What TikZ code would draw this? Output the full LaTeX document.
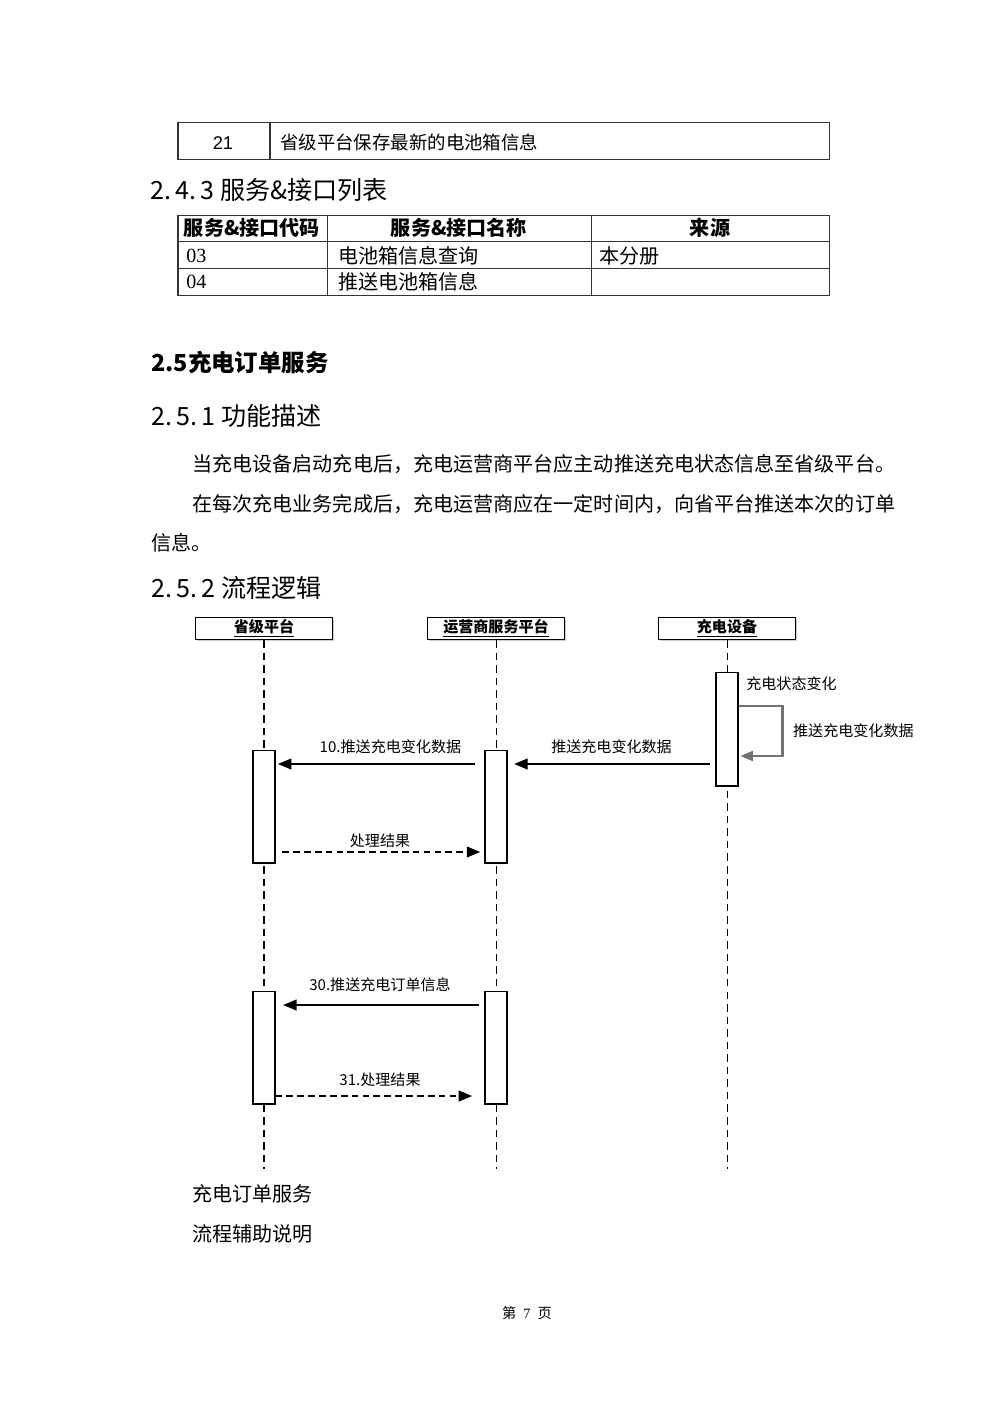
\documentclass[tikz,border=0pt]{standalone}
\usepackage{fontspec}
\setmainfont{Noto Sans CJK SC}
\newfontfamily\serifnum{Liberation Serif}
\newfontfamily\sansnum{Liberation Sans}
\usetikzlibrary{shadows, arrows.meta, positioning, calc}
\tikzset{
    txt/.style = {inner sep=0pt, anchor=west, font=\fontsize{12}{14}\selectfont},% body text
    head/.style = {inner sep=0pt, anchor=west, font=\fontsize{15}{18}\selectfont},
    cell/.style = {inner sep=0pt, font=\fontsize{12}{14}\selectfont},
    grid/.style = {draw=black!80, line width=0.6pt},
    actor/.style = {draw, fill=white, line width=0.7pt, minimum width=28.6mm, minimum height=4.6mm,
        inner sep=0pt, font=\fontsize{9}{10}\selectfont\bfseries,
        drop shadow={shadow xshift=0.9pt, shadow yshift=-0.9pt, opacity=0.4}},
    act/.style = {draw, fill=white, line width=0.7pt, minimum width=4.6mm, minimum height=23.7mm,
        inner sep=0pt, drop shadow={shadow xshift=0.9pt, shadow yshift=-0.9pt, opacity=0.4}},
    lifeline/.style = {line width=0.6pt, dash pattern=on 4.5pt off 3pt},
    msg/.style = {line width=0.7pt, -{Triangle[length=8pt, width=6.5pt]}},
    reply/.style = {msg, dash pattern=on 4pt off 2.5pt},
    selfmsg/.style = {draw=black!55, line width=1.3pt, -{Triangle[length=7.5pt, width=6pt]}},
    lbl/.style = {inner sep=0pt, font=\fontsize{9}{10}\selectfont}
}
\begin{document}
\begin{tikzpicture}[x=0.21mm, y=-0.21mm]
\useasboundingbox (0,0) rectangle (1000,1414);

% table of step 21
\draw[grid] (178,122) rectangle (829,159);
\draw[grid] (270,122) -- (270,159);
\node[inner sep=0pt, font=\sansnum\fontsize{11}{12}\selectfont] (n21) at (223,143) {21};
\node[txt, font=\fontsize{11}{13}\selectfont] (s21) at (280,142) {省级平台保存最新的电池箱信息};

\node[head] (h243) at (150,190) {2.\,4.\,3 服务\&接口列表};

% service table
\draw[grid] (178,215) rectangle (829,295);
\foreach \yy in {241.5,268} \draw[grid] (178,\yy) -- (829,\yy);
\foreach \xx in {327,591} \draw[grid] (\xx,215) -- (\xx,295);
\node[cell, font=\fontsize{12}{14}\selectfont\bfseries] (c11) at (252,228) {服务\&接口代码};
\node[cell, font=\fontsize{12}{14}\selectfont\bfseries] (c12) at (459,228) {服务\&接口名称};
\node[cell, font=\fontsize{12}{14}\selectfont\bfseries] (c13) at (710,228) {来源};
\node[txt, font=\serifnum\fontsize{12}{14}\selectfont] (c21) at (186,256) {03};
\node[txt] (c22) at (338,256) {电池箱信息查询};
\node[txt] (c23) at (599,256) {本分册};
\node[txt, font=\serifnum\fontsize{12}{14}\selectfont] (c31) at (186,282) {04};
\node[txt] (c32) at (338,282) {推送电池箱信息};

\node[head, font=\fontsize{14}{17}\selectfont\bfseries] (h25) at (151,363) {2.5充电订单服务};
\node[head] (h251) at (151,416) {2.\,5.\,1 功能描述};
\node[txt] (p1) at (192,464) {当充电设备启动充电后，充电运营商平台应主动推送充电状态信息至省级平台。};
\node[txt] (p2) at (192,504) {在每次充电业务完成后，充电运营商应在一定时间内，向省平台推送本次的订单};
\node[txt] (p3) at (151,543) {信息。};
\node[head] (h252) at (151,588) {2.\,5.\,2 流程逻辑};

% sequence diagram
\node[actor] (prov) at (264,628.5) {\underline{省级平台}};
\node[actor] (oper) at (496,628.5) {\underline{运营商服务平台}};
\node[actor] (dev) at (727,628.5) {\underline{充电设备}};
\coordinate (bottom) at (0,1169);
\foreach \pp in {prov,oper,dev}
    \draw[lifeline] (\pp.south) -- (\pp.south |- bottom);

\node[act, minimum height=23.9mm] (dev1) at (727,729) {};
\node[act] (prov1) at (264,806.5) {};
\node[act] (oper1) at (496,806.5) {};
\node[act] (prov2) at (264,1047.5) {};
\node[act] (oper2) at (496,1047.5) {};

\node[lbl, anchor=west] (chg) at (746,684) {充电状态变化};
\coordinate (s1) at (0,706);
\coordinate (s2) at (0,756);
\draw[selfmsg] (dev1.east |- s1) -- ++(44,0) |- ([xshift=0.4mm]dev1.east |- s2)
    node[lbl, anchor=west, pos=0.25, right=2mm] {推送充电变化数据};

\coordinate (m1) at (0,764);
\coordinate (m2) at (0,852);
\coordinate (m3) at (0,1005);
\coordinate (m4) at (0,1096);
\draw[msg, shorten <=1.1mm, shorten >=1.4mm] (dev1.west |- m1) -- (oper1.east |- m1)
    node[lbl, midway, above=2.1mm] {推送充电变化数据};
\draw[msg, shorten <=1.9mm, shorten >=0.5mm] (oper1.west |- m1) -- (prov1.east |- m1)
    node[lbl, pos=0.45, above=2.1mm] {10.推送充电变化数据};
\draw[reply, shorten <=1.4mm, shorten >=0.9mm] (prov1.east |- m2) -- (oper1.west |- m2)
    node[lbl, midway, above=0.7mm] {处理结果};
\draw[msg, shorten <=1.1mm, shorten >=1.6mm] (oper2.west |- m3) -- (prov2.east |- m3)
    node[lbl, midway, above=2.7mm] {30.推送充电订单信息};
\draw[reply, shorten >=2.6mm] (prov2.east |- m4) -- (oper2.west |- m4)
    node[lbl, midway, above=1.8mm] {31.处理结果};

\node[txt] (cap1) at (192,1194) {充电订单服务};
\node[txt] (cap2) at (192,1234) {流程辅助说明};
\node[inner sep=0pt, font=\fontsize{8.5}{10}\selectfont] (page) at (527,1313)
    {第\hspace{0.5em}{\serifnum 7}\hspace{0.5em}页};
\end{tikzpicture}
\end{document}
